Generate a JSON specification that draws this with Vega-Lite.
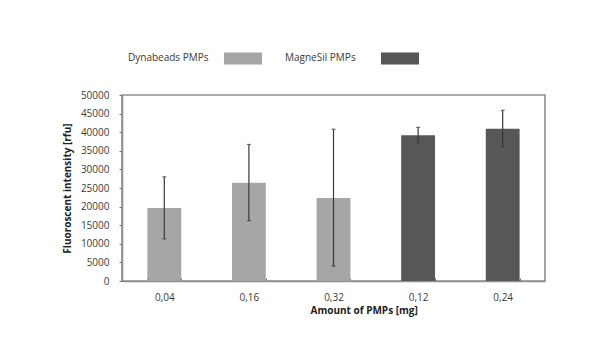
{
  "$schema": "https://vega.github.io/schema/vega-lite/v6.json",
  "width": 423,
  "height": 186,
  "autosize": {"type": "none"},
  "padding": {"left": 122, "top": 95, "right": 67, "bottom": 71},
  "background": "white",
  "config": {
    "font": "Open Sans",
    "view": {"stroke": "#8f8f8f", "strokeWidth": 1.6},
    "axis": {
      "labelFont": "Open Sans",
      "titleFont": "Open Sans",
      "labelFontSize": 10,
      "labelColor": "#3a3a3a",
      "titleColor": "#222222",
      "titleFontSize": 10,
      "titleFontWeight": "bold",
      "domainColor": "#8f8f8f",
      "domainWidth": 1.6,
      "tickColor": "#6f6f6f",
      "grid": false,
      "labelOverlap": false
    },
    "legend": {
      "labelFont": "Open Sans",
      "labelFontSize": 10,
      "labelColor": "#3a3a3a"
    }
  },
  "data": {
    "values": [
      {"amount": "0,04", "series": "Dynabeads PMPs", "value": 19600, "lo": 11300, "hi": 28000},
      {"amount": "0,16", "series": "Dynabeads PMPs", "value": 26400, "lo": 16200, "hi": 36700},
      {"amount": "0,32", "series": "Dynabeads PMPs", "value": 22300, "lo": 4000, "hi": 40800},
      {"amount": "0,12", "series": "MagneSil PMPs", "value": 39200, "lo": 37200, "hi": 41300},
      {"amount": "0,24", "series": "MagneSil PMPs", "value": 40900, "lo": 36100, "hi": 45900}
    ]
  },
  "encoding": {
    "x": {
      "field": "amount",
      "type": "nominal",
      "sort": null,
      "scale": {"paddingInner": 0.6, "paddingOuter": 0.3},
      "axis": {
        "title": "Amount of PMPs [mg]",
        "labelAngle": 0,
        "labelPadding": 14,
        "tickBand": "extent",
        "tickSize": -3,
        "titlePadding": 3,
        "titleAnchor": "start",
        "titleX": 188
      }
    }
  },
  "layer": [
    {
      "mark": {"type": "bar"},
      "encoding": {
        "y": {
          "field": "value",
          "type": "quantitative",
          "scale": {"domain": [0, 50000], "nice": false},
          "axis": {
            "title": "Fluoroscent intensity [rfu]",
            "values": [0, 5000, 10000, 15000, 20000, 25000, 30000, 35000, 40000, 45000, 50000],
            "format": "d",
            "tickSize": 3,
            "labelPadding": 10,
            "titlePadding": 8,
            "labelOverlap": false
          }
        },
        "color": {
          "field": "series",
          "type": "nominal",
          "scale": {"domain": ["Dynabeads PMPs", "MagneSil PMPs"], "range": ["#a6a6a6", "#575757"]},
          "legend": {
            "title": null,
            "orient": "none",
            "legendX": 6,
            "legendY": -56,
            "direction": "horizontal",
            "padding": 0,
            "symbolType": "M-1,-0.316H1V0.316H-1Z",
            "symbolSize": 1444,
            "symbolStrokeWidth": 0,
            "symbolOpacity": 1,
            "symbolOffset": 96,
            "labelOffset": -134,
            "labelAlign": "left",
            "columnPadding": 23
          }
        }
      }
    },
    {
      "mark": {"type": "rule", "color": "#3a3a3a", "strokeWidth": 1.2},
      "encoding": {
        "y": {
          "field": "lo",
          "type": "quantitative",
          "scale": {"domain": [0, 50000], "nice": false},
          "axis": {
            "title": "Fluoroscent intensity [rfu]",
            "values": [0, 5000, 10000, 15000, 20000, 25000, 30000, 35000, 40000, 45000, 50000],
            "format": "d",
            "tickSize": 3,
            "labelPadding": 10,
            "titlePadding": 8,
            "labelOverlap": false
          }
        },
        "y2": {"field": "hi"}
      }
    },
    {
      "mark": {"type": "tick", "color": "#3a3a3a", "thickness": 1.2, "size": 4},
      "encoding": {
        "y": {
          "field": "hi",
          "type": "quantitative",
          "scale": {"domain": [0, 50000], "nice": false},
          "axis": {
            "title": "Fluoroscent intensity [rfu]",
            "values": [0, 5000, 10000, 15000, 20000, 25000, 30000, 35000, 40000, 45000, 50000],
            "format": "d",
            "tickSize": 3,
            "labelPadding": 10,
            "titlePadding": 8,
            "labelOverlap": false
          }
        }
      }
    },
    {
      "mark": {"type": "tick", "color": "#3a3a3a", "thickness": 1.2, "size": 4},
      "encoding": {
        "y": {
          "field": "lo",
          "type": "quantitative",
          "scale": {"domain": [0, 50000], "nice": false},
          "axis": {
            "title": "Fluoroscent intensity [rfu]",
            "values": [0, 5000, 10000, 15000, 20000, 25000, 30000, 35000, 40000, 45000, 50000],
            "format": "d",
            "tickSize": 3,
            "labelPadding": 10,
            "titlePadding": 8,
            "labelOverlap": false
          }
        }
      }
    }
  ]
}
